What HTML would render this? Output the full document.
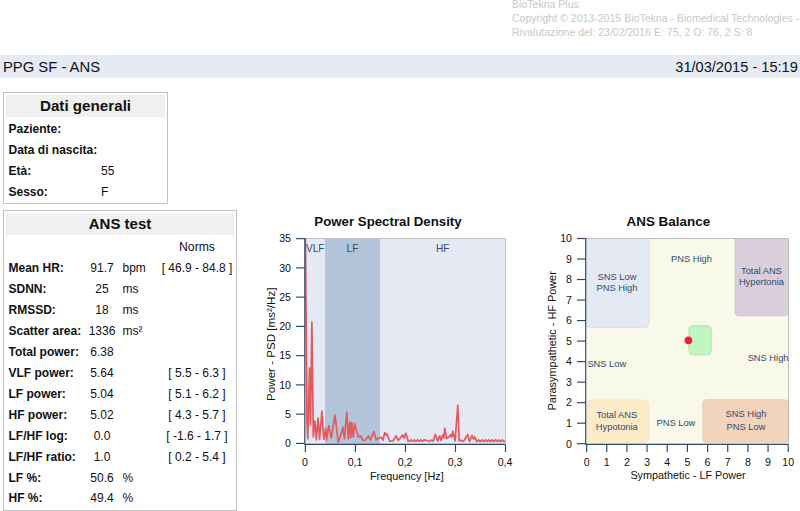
<!DOCTYPE html>
<html><head><meta charset="utf-8">
<style>
*{margin:0;padding:0;box-sizing:border-box}
html,body{width:800px;height:511px;overflow:hidden;background:#fff;font-family:"Liberation Sans",sans-serif;color:#111}
.a{position:absolute;white-space:nowrap}
.cp{color:#c8c8c8;font-size:10.55px;left:512px}
.bar{position:absolute;left:0;top:55px;width:800px;height:23px;background:#e6eaf5}
.box{position:absolute;border:1px solid #c2c2c2}
.hd{position:absolute;background:#f0f0f0}
.b{font-weight:bold;font-size:12px}
.r{font-size:12px}
</style></head><body>
<div class="a cp" style="top:-2px">BioTekna Plus</div>
<div class="a cp" style="top:12px">Copyright © 2013-2015 BioTekna - Biomedical Technologies -</div>
<div class="a cp" style="top:26px">Rivalutazione del: 23/02/2016 E: 75, 2 O: 76, 2 S: 8</div>
<div class="bar"></div>
<div class="a" style="left:3px;top:58.7px;font-size:14.8px">PPG SF - ANS</div>
<div class="a" style="right:2.2px;top:59px;font-size:14.6px">31/03/2015 - 15:19</div>

<div class="box" style="left:3px;top:92px;width:165px;height:112px"></div>
<div class="hd" style="left:6px;top:95px;width:159px;height:22px"></div>
<div class="a" style="left:6px;width:159px;text-align:center;top:97px;font-weight:bold;font-size:15.2px">Dati generali</div>
<div class="a b" style="left:8.5px;top:122px">Paziente:</div>
<div class="a b" style="left:8.5px;top:143px">Data di nascita:</div>
<div class="a b" style="left:8.5px;top:164px">Età:</div>
<div class="a r" style="left:101px;top:164px">55</div>
<div class="a b" style="left:8.5px;top:185px">Sesso:</div>
<div class="a r" style="left:101px;top:185px">F</div>

<div class="box" style="left:3px;top:210px;width:234px;height:301px"></div>
<div class="hd" style="left:6px;top:213px;width:228px;height:22px"></div>
<div class="a" style="left:6px;width:228px;text-align:center;top:215.3px;font-weight:bold;font-size:15px">ANS test</div>
<div class="a r" style="left:160px;width:74px;text-align:center;top:240px;font-size:12.2px">Norms</div>

<div class="a b" style="left:8.5px;top:261.00px">Mean HR:</div>
<div class="a r" style="left:82px;width:40px;text-align:center;top:261.00px">91.7</div>
<div class="a r" style="left:122.5px;top:261.00px">bpm</div>
<div class="a r" style="left:160px;width:74px;text-align:center;top:261.00px">[ 46.9 - 84.8 ]</div>
<div class="a b" style="left:8.5px;top:281.95px">SDNN:</div>
<div class="a r" style="left:82px;width:40px;text-align:center;top:281.95px">25</div>
<div class="a r" style="left:122.5px;top:281.95px">ms</div>
<div class="a b" style="left:8.5px;top:302.90px">RMSSD:</div>
<div class="a r" style="left:82px;width:40px;text-align:center;top:302.90px">18</div>
<div class="a r" style="left:122.5px;top:302.90px">ms</div>
<div class="a b" style="left:8.5px;top:323.85px">Scatter area:</div>
<div class="a r" style="left:82px;width:40px;text-align:center;top:323.85px">1336</div>
<div class="a r" style="left:122.5px;top:323.85px">ms²</div>
<div class="a b" style="left:8.5px;top:344.80px">Total power:</div>
<div class="a r" style="left:82px;width:40px;text-align:center;top:344.80px">6.38</div>
<div class="a b" style="left:8.5px;top:365.75px">VLF power:</div>
<div class="a r" style="left:82px;width:40px;text-align:center;top:365.75px">5.64</div>
<div class="a r" style="left:160px;width:74px;text-align:center;top:365.75px">[ 5.5 - 6.3 ]</div>
<div class="a b" style="left:8.5px;top:386.70px">LF power:</div>
<div class="a r" style="left:82px;width:40px;text-align:center;top:386.70px">5.04</div>
<div class="a r" style="left:160px;width:74px;text-align:center;top:386.70px">[ 5.1 - 6.2 ]</div>
<div class="a b" style="left:8.5px;top:407.65px">HF power:</div>
<div class="a r" style="left:82px;width:40px;text-align:center;top:407.65px">5.02</div>
<div class="a r" style="left:160px;width:74px;text-align:center;top:407.65px">[ 4.3 - 5.7 ]</div>
<div class="a b" style="left:8.5px;top:428.60px">LF/HF log:</div>
<div class="a r" style="left:82px;width:40px;text-align:center;top:428.60px">0.0</div>
<div class="a r" style="left:160px;width:74px;text-align:center;top:428.60px">[ -1.6 - 1.7 ]</div>
<div class="a b" style="left:8.5px;top:449.55px">LF/HF ratio:</div>
<div class="a r" style="left:82px;width:40px;text-align:center;top:449.55px">1.0</div>
<div class="a r" style="left:160px;width:74px;text-align:center;top:449.55px">[ 0.2 - 5.4 ]</div>
<div class="a b" style="left:8.5px;top:470.50px">LF %:</div>
<div class="a r" style="left:82px;width:40px;text-align:center;top:470.50px">50.6</div>
<div class="a r" style="left:122.5px;top:470.50px">%</div>
<div class="a b" style="left:8.5px;top:491.45px">HF %:</div>
<div class="a r" style="left:82px;width:40px;text-align:center;top:491.45px">49.4</div>
<div class="a r" style="left:122.5px;top:491.45px">%</div>
<svg class="a" style="left:0;top:0" width="800" height="511" viewBox="0 0 800 511" font-family="Liberation Sans, sans-serif">
<text x="388" y="225.7" font-size="13.25" font-weight="bold" text-anchor="middle" fill="#111">Power Spectral Density</text>
<rect x="305" y="238" width="20" height="206" fill="#e4e9f3"/>
<rect x="325" y="238" width="55" height="206" fill="#b3c5db"/>
<rect x="380" y="238" width="125" height="206" fill="#e4e9f3"/>
<path d="M305 238.5H505.5V444" fill="none" stroke="#c0c0c0" stroke-width="1"/>
<g font-size="10.1" fill="#384c6e" text-anchor="middle"><text x="315.2" y="252">VLF</text><text x="352.5" y="252">LF</text><text x="442.7" y="252">HF</text></g>
<clipPath id="cp"><rect x="305" y="238" width="201" height="207"/></clipPath>
<polyline clip-path="url(#cp)" points="305.07,200 307,421 307.8,439 309.5,368 310.5,425 311.9,322 313.3,437 314.9,421 316.4,440 318,418 319.6,439.5 321.9,411 323.7,439.5 325.7,428 326.5,440 328.8,425.5 331.2,438 335,415 338.2,442 340.5,436 342.9,427 344.4,439 346.8,412 348.3,439 349.8,422.4 350.8,438 351.7,422.4 353.2,437 354.7,423.4 357.1,433 358.6,437 360.5,436 363,440.5 365.4,440 368.4,436 370.3,440 373.8,431.7 376.2,440 379.1,438 381.1,437.3 383,440 384.7,432.6 385.8,435 387,433.8 389.7,441.2 392.9,441 396,436 398.3,440.4 400.3,438 402.6,435 404.2,438 405.8,433 408.1,441.2 409.5,441.5 411.1,439.8 412.7,441.5 414.3,439.8 415.9,441.5 417.5,439.8 419.1,441.5 420.7,439.8 422.3,441.5 423.9,439.8 427,440.5 429.9,441.5 431.5,440 433.3,441 435.3,434.2 437.7,441 439.7,436 441.1,440.5 442.6,435 443.8,438 444.8,428.3 446.5,438.6 449,437 450.6,434.6 451.8,437 452.9,431.2 455.1,441 457.8,405.3 459.2,441 461,440 462.5,441.5 464.1,440.5 467.6,434.6 469.6,441.5 472,435.4 473.6,439 474.8,437 476.7,441.5 478.7,440 480.2,441.6 481.9,439.9 483.6,441.6 485.3,439.9 487,441.6 488.7,439.9 490.4,441.6 492.1,439.9 493.8,441.6 495.5,439.9 497.2,441.6 498.9,439.9 500.6,441.6 502.3,439.9 504,441.6 505,441" fill="none" stroke="#e25a5e" stroke-width="1.7" stroke-linejoin="round"/>
<g stroke="#2f4566" stroke-width="1.15" fill="none">
<path d="M304.8 238V444.3H505"/>
<path d="M296 443.40H304.8"/>
<path d="M296 414.15H304.8"/>
<path d="M296 384.90H304.8"/>
<path d="M296 355.65H304.8"/>
<path d="M296 326.40H304.8"/>
<path d="M296 297.15H304.8"/>
<path d="M296 267.90H304.8"/>
<path d="M296 238.65H304.8"/>
<path d="M305.40 444.3V452"/>
<path d="M355.43 444.3V452"/>
<path d="M405.46 444.3V452"/>
<path d="M455.49 444.3V452"/>
<path d="M505.52 444.3V452"/>
</g>
<g font-size="10.6" fill="#111">
<text x="291" y="447.20" text-anchor="end">0</text>
<text x="291" y="417.95" text-anchor="end">5</text>
<text x="291" y="388.70" text-anchor="end">10</text>
<text x="291" y="359.45" text-anchor="end">15</text>
<text x="291" y="330.20" text-anchor="end">20</text>
<text x="291" y="300.95" text-anchor="end">25</text>
<text x="291" y="271.70" text-anchor="end">30</text>
<text x="291" y="242.45" text-anchor="end">35</text>
<text x="305" y="465.7" text-anchor="middle">0</text>
<text x="355" y="465.7" text-anchor="middle">0,1</text>
<text x="405" y="465.7" text-anchor="middle">0,2</text>
<text x="455" y="465.7" text-anchor="middle">0,3</text>
<text x="505" y="465.7" text-anchor="middle">0,4</text>
</g>
<text x="406.8" y="479.8" font-size="10.9" text-anchor="middle" fill="#111">Frequency [Hz]</text>
<text transform="translate(275,344.2) rotate(-90)" font-size="11.6" text-anchor="middle" fill="#111">Power - PSD [ms²/Hz]</text>
<text x="668.3" y="225.7" font-size="13.45" font-weight="bold" text-anchor="middle" fill="#111">ANS Balance</text>
<rect x="586" y="238" width="202" height="206" fill="#f9f9ea"/>
<clipPath id="ca"><rect x="586" y="238" width="203" height="206"/></clipPath>
<g clip-path="url(#ca)">
<rect x="586" y="230" width="62.8" height="97.5" rx="4" fill="#e5e9f4" stroke="#d6d9e3" stroke-width="0.8"/>
<rect x="734.8" y="230" width="53.2" height="86" rx="4" fill="#dacedb" stroke="#d0c4d0" stroke-width="0.6"/>
</g>
<rect x="689" y="325.8" width="22.2" height="29" rx="4" fill="#bff8bf" stroke="#a8dca8" stroke-width="0.9"/>
<rect x="587.5" y="400" width="61.2" height="42.6" rx="4" fill="#fcebc8" stroke="#eedcb8" stroke-width="0.6"/>
<rect x="702.7" y="399.6" width="85.5" height="43.2" rx="4" fill="#f2d3bb" stroke="#e3c5ae" stroke-width="0.6"/>
<path d="M586 238.5H788.5V444" fill="none" stroke="#c0c0c0" stroke-width="1"/>
<circle cx="688.4" cy="340.4" r="3.8" fill="#f3222e"/>
<g font-size="9.3" fill="#304c6a" text-anchor="middle">
<text x="691.5" y="261.9">PNS High</text>
<text x="617" y="279.75">SNS Low</text>
<text x="617" y="291.1">PNS High</text>
<text x="761.4" y="273.8">Total ANS</text>
<text x="761.4" y="285.2">Hypertonia</text>
<text x="616.8" y="417.75">Total ANS</text>
<text x="616.8" y="429.5">Hypotonia</text>
<text x="675.9" y="425.7">PNS Low</text>
<text x="746" y="417.4">SNS High</text>
<text x="746" y="429.7">PNS Low</text>
<text x="587.4" y="366.6" text-anchor="start">SNS Low</text>
<text x="788.5" y="360.7" text-anchor="end">SNS High</text>
</g>
<g stroke="#2f4566" stroke-width="1.15" fill="none">
<path d="M585.7 238V444.3H788"/>
<path d="M577 443.70H585.7"/>
<path d="M586.60 444.3V452"/>
<path d="M577 423.18H585.7"/>
<path d="M606.76 444.3V452"/>
<path d="M577 402.66H585.7"/>
<path d="M626.92 444.3V452"/>
<path d="M577 382.14H585.7"/>
<path d="M647.08 444.3V452"/>
<path d="M577 361.62H585.7"/>
<path d="M667.24 444.3V452"/>
<path d="M577 341.10H585.7"/>
<path d="M687.40 444.3V452"/>
<path d="M577 320.58H585.7"/>
<path d="M707.56 444.3V452"/>
<path d="M577 300.06H585.7"/>
<path d="M727.72 444.3V452"/>
<path d="M577 279.54H585.7"/>
<path d="M747.88 444.3V452"/>
<path d="M577 259.02H585.7"/>
<path d="M768.04 444.3V452"/>
<path d="M577 238.50H585.7"/>
<path d="M788.20 444.3V452"/>
</g>
<g font-size="10.6" fill="#111">
<text x="572" y="447.50" text-anchor="end">0</text>
<text x="586.60" y="465.5" text-anchor="middle">0</text>
<text x="572" y="426.98" text-anchor="end">1</text>
<text x="606.76" y="465.5" text-anchor="middle">1</text>
<text x="572" y="406.46" text-anchor="end">2</text>
<text x="626.92" y="465.5" text-anchor="middle">2</text>
<text x="572" y="385.94" text-anchor="end">3</text>
<text x="647.08" y="465.5" text-anchor="middle">3</text>
<text x="572" y="365.42" text-anchor="end">4</text>
<text x="667.24" y="465.5" text-anchor="middle">4</text>
<text x="572" y="344.90" text-anchor="end">5</text>
<text x="687.40" y="465.5" text-anchor="middle">5</text>
<text x="572" y="324.38" text-anchor="end">6</text>
<text x="707.56" y="465.5" text-anchor="middle">6</text>
<text x="572" y="303.86" text-anchor="end">7</text>
<text x="727.72" y="465.5" text-anchor="middle">7</text>
<text x="572" y="283.34" text-anchor="end">8</text>
<text x="747.88" y="465.5" text-anchor="middle">8</text>
<text x="572" y="262.82" text-anchor="end">9</text>
<text x="768.04" y="465.5" text-anchor="middle">9</text>
<text x="572" y="242.30" text-anchor="end">10</text>
<text x="788.20" y="465.5" text-anchor="middle">10</text>
</g>
<text x="688" y="479.2" font-size="10.8" text-anchor="middle" fill="#111">Sympathetic - LF Power</text>
<text transform="translate(555.7,340.8) rotate(-90)" font-size="10.9" text-anchor="middle" fill="#111">Parasympathetic - HF Power</text>
</svg>
</body></html>
